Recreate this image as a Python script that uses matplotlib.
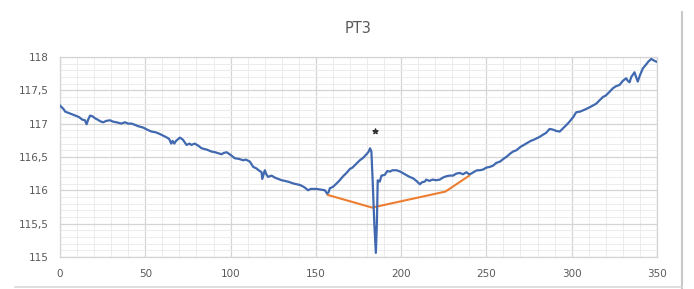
import matplotlib
matplotlib.use("Agg")
import matplotlib.pyplot as plt
import numpy as np
from matplotlib.lines import Line2D

# blue measured series
x_pt3 = [0, 2, 3, 5, 7, 9, 11, 13, 14.6, 15.6, 16.5, 17.6, 19, 20.5, 22, 24, 25.4, 27, 29.3, 31,
         33, 36, 38, 40, 42, 44, 46, 48.8, 51, 53.7, 56, 58, 59.6, 62, 64, 65.2, 66, 67, 68, 70.3,
         72, 74.2, 76, 77, 79, 81, 83, 86, 88.9, 91, 94.7, 96, 97.7, 99.5, 102.5, 105, 107.4, 109,
         111.3, 113.3, 115, 116.5, 118.2, 118.6, 119.2, 120.1, 121, 122, 124, 126, 127.9, 130, 132,
         134.8, 137, 140.6, 143, 145.5, 147, 150.4, 153, 155.3, 156.6, 157.5, 158.2, 160, 162.1, 164,
         166, 168, 170, 171.5, 173.8, 175.8, 177.5, 179.7, 181, 181.8, 182.6, 183.4, 184.3, 185.2,
         185.8, 186.3, 187.5, 188.5, 190.4, 192, 193.4, 195, 197.3, 199.5, 202.2, 205, 207, 209, 211,
         212.3, 213.9, 214.8, 216.5, 218.5, 220.5, 222.7, 224.5, 226.5, 228.5, 230.5, 232.4, 234.4,
         236.3, 238.3, 240, 241.2, 243, 244.6, 246.1, 248, 250, 252, 254, 255.8, 258, 260, 261.7, 264,
         265.6, 267.6, 270, 273.4, 276, 278, 281.2, 283, 285, 287.1, 289, 291, 293, 295, 297, 298.8,
         301, 302.7, 305, 308.6, 311, 314.5, 316, 318.4, 320, 322, 324.2, 326, 328.1, 330, 332, 333,
         334, 335, 336.9, 337.8, 338.8, 340, 341.8, 343.5, 345, 346.7, 348, 349.6]
y_pt3 = [117.27, 117.22, 117.18, 117.16, 117.14, 117.12, 117.10, 117.06, 117.05, 116.99, 117.06,
         117.12, 117.11, 117.08, 117.06, 117.03, 117.02, 117.04, 117.05, 117.03, 117.02, 117.00,
         117.02, 117.00, 117.00, 116.98, 116.96, 116.94, 116.91, 116.88, 116.87, 116.85, 116.83,
         116.80, 116.77, 116.70, 116.74, 116.70, 116.74, 116.79, 116.76, 116.68, 116.70, 116.68,
         116.70, 116.67, 116.63, 116.61, 116.58, 116.57, 116.54, 116.56, 116.57, 116.54, 116.48,
         116.47, 116.45, 116.46, 116.43, 116.35, 116.33, 116.30, 116.27, 116.17, 116.22, 116.30,
         116.24, 116.20, 116.22, 116.19, 116.17, 116.15, 116.14, 116.12, 116.10, 116.08, 116.05,
         116.00, 116.02, 116.02, 116.01, 116.00, 115.95, 115.97, 116.03, 116.05, 116.10, 116.15,
         116.21, 116.26, 116.32, 116.34, 116.40, 116.45, 116.48, 116.54, 116.58, 116.63, 116.58,
         116.10, 115.50, 115.06, 115.50, 116.15, 116.13, 116.22, 116.23, 116.29, 116.28, 116.30,
         116.30, 116.28, 116.24, 116.20, 116.18, 116.14, 116.09, 116.12, 116.13, 116.16, 116.14,
         116.16, 116.15, 116.16, 116.19, 116.21, 116.22, 116.22, 116.25, 116.26, 116.24, 116.27,
         116.24, 116.25, 116.28, 116.30, 116.30, 116.31, 116.34, 116.35, 116.37, 116.41, 116.43,
         116.47, 116.50, 116.55, 116.58, 116.60, 116.65, 116.70, 116.74, 116.76, 116.80, 116.83,
         116.86, 116.92, 116.91, 116.89, 116.88, 116.93, 116.98, 117.03, 117.10, 117.17, 117.18,
         117.22, 117.25, 117.30, 117.34, 117.40, 117.42, 117.47, 117.53, 117.56, 117.58, 117.64,
         117.68, 117.64, 117.62, 117.70, 117.77, 117.70, 117.63, 117.72, 117.83, 117.88, 117.93,
         117.97, 117.95, 117.93]

# orange baseline
x_base = [157, 183, 226, 240]
y_base = [115.93, 115.74, 115.98, 116.22]

# marker
x_star = [184.6]
y_star = [116.89]

x_ticks = [0, 50, 100, 150, 200, 250, 300, 350]
y_ticks = [115, 115.5, 116, 116.5, 117, 117.5, 118]
y_labels = ["115", "115,5", "116", "116,5", "117", "117,5", "118"]

fig = plt.figure(figsize=(6.94, 2.89), dpi=100)
ax = fig.add_axes([0.0865, 0.111, 0.86, 0.692])

ax.plot(x_pt3, y_pt3, color="#4169B0", lw=1.6, zorder=3)
ax.plot(x_base, y_base, color="#ED7D31", lw=1.5, zorder=2)
ax.scatter(x_star, y_star, marker="*", s=14, color="#333333", zorder=4)

ax.set_xlim(0, 350)
ax.set_ylim(115, 118)
ax.set_xticks(x_ticks)
ax.set_xticklabels([str(v) for v in x_ticks])
ax.set_yticks(y_ticks)
ax.set_yticklabels(y_labels)
ax.set_xticks(np.arange(0, 351, 10), minor=True)
ax.set_yticks(np.arange(115, 118.01, 0.1), minor=True)
ax.grid(which="major", color="#d4d4d4", lw=0.9)
ax.grid(which="minor", color="#ececec", lw=0.7)
ax.set_axisbelow(True)
ax.tick_params(which="both", length=0, labelsize=7.5, colors="#595959")
ax.tick_params(axis="x", pad=9)
ax.tick_params(axis="y", pad=8)
for s in ax.spines.values():
    s.set_color("#d4d4d4")
    s.set_linewidth(0.9)

ax.set_title("PT3", fontsize=10.5, color="#595959", pad=17)

# screenshot frame edges
fig.add_artist(Line2D([682 / 694, 682 / 694], [0.0, 1 - 12 / 289], transform=fig.transFigure,
                      color="#c8c8c8", lw=1.5))
fig.add_artist(Line2D([15 / 694, 682 / 694], [2 / 289, 2 / 289], transform=fig.transFigure,
                      color="#d8d8d8", lw=1.2))

fig.savefig("out.png", dpi=100)
